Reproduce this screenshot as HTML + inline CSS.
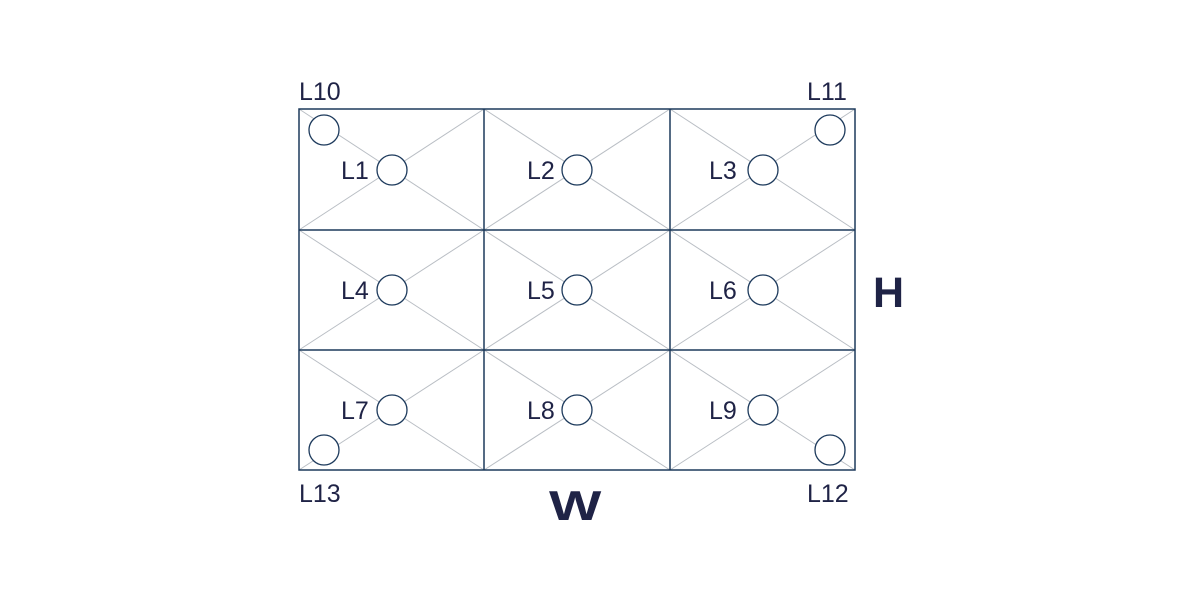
<!DOCTYPE html>
<html><head><style>html,body{margin:0;padding:0;background:#fff;}svg{display:block}</style></head>
<body>
<svg width="1200" height="600" xmlns="http://www.w3.org/2000/svg" font-family="Liberation Sans, sans-serif" fill="#1f2346">
<g stroke="#b9bec4" stroke-width="1">
<line x1="299" y1="109" x2="484" y2="230"/><line x1="484" y1="109" x2="299" y2="230"/>
<line x1="484" y1="109" x2="670" y2="230"/><line x1="670" y1="109" x2="484" y2="230"/>
<line x1="670" y1="109" x2="855" y2="230"/><line x1="855" y1="109" x2="670" y2="230"/>
<line x1="299" y1="230" x2="484" y2="350"/><line x1="484" y1="230" x2="299" y2="350"/>
<line x1="484" y1="230" x2="670" y2="350"/><line x1="670" y1="230" x2="484" y2="350"/>
<line x1="670" y1="230" x2="855" y2="350"/><line x1="855" y1="230" x2="670" y2="350"/>
<line x1="299" y1="350" x2="484" y2="470"/><line x1="484" y1="350" x2="299" y2="470"/>
<line x1="484" y1="350" x2="670" y2="470"/><line x1="670" y1="350" x2="484" y2="470"/>
<line x1="670" y1="350" x2="855" y2="470"/><line x1="855" y1="350" x2="670" y2="470"/>
</g>
<g stroke="#1d3a5c" stroke-width="1.5" fill="none">
<rect x="299" y="109" width="556" height="361"/>
<line x1="484" y1="109" x2="484" y2="470"/><line x1="670" y1="109" x2="670" y2="470"/>
<line x1="299" y1="230" x2="855" y2="230"/><line x1="299" y1="350" x2="855" y2="350"/>
</g>
<g stroke="#1d3a5c" stroke-width="1.3" fill="#fff">
<circle cx="392" cy="170" r="15"/><circle cx="577" cy="170" r="15"/><circle cx="763" cy="170" r="15"/>
<circle cx="392" cy="290" r="15"/><circle cx="577" cy="290" r="15"/><circle cx="763" cy="290" r="15"/>
<circle cx="392" cy="410" r="15"/><circle cx="577" cy="410" r="15"/><circle cx="763" cy="410" r="15"/>
<circle cx="324" cy="130" r="15"/><circle cx="830" cy="130" r="15"/>
<circle cx="324" cy="450" r="15"/><circle cx="830" cy="450" r="15"/>
</g>
<g font-size="25">
<text x="341" y="179">L1</text><text x="527" y="179">L2</text><text x="709" y="179">L3</text>
<text x="341" y="299">L4</text><text x="527" y="299">L5</text><text x="709" y="299">L6</text>
<text x="341" y="419">L7</text><text x="527" y="419">L8</text><text x="709" y="419">L9</text>
<text x="299" y="100">L10</text><text x="807" y="100">L11</text>
<text x="299" y="502">L13</text><text x="807" y="502">L12</text>
</g>
<text x="873" y="307" font-size="43" font-weight="bold">H</text>
<text x="0" y="0" font-size="42" font-weight="bold" transform="translate(549,520) scale(1.32,1)">W</text>
</svg>
</body></html>
